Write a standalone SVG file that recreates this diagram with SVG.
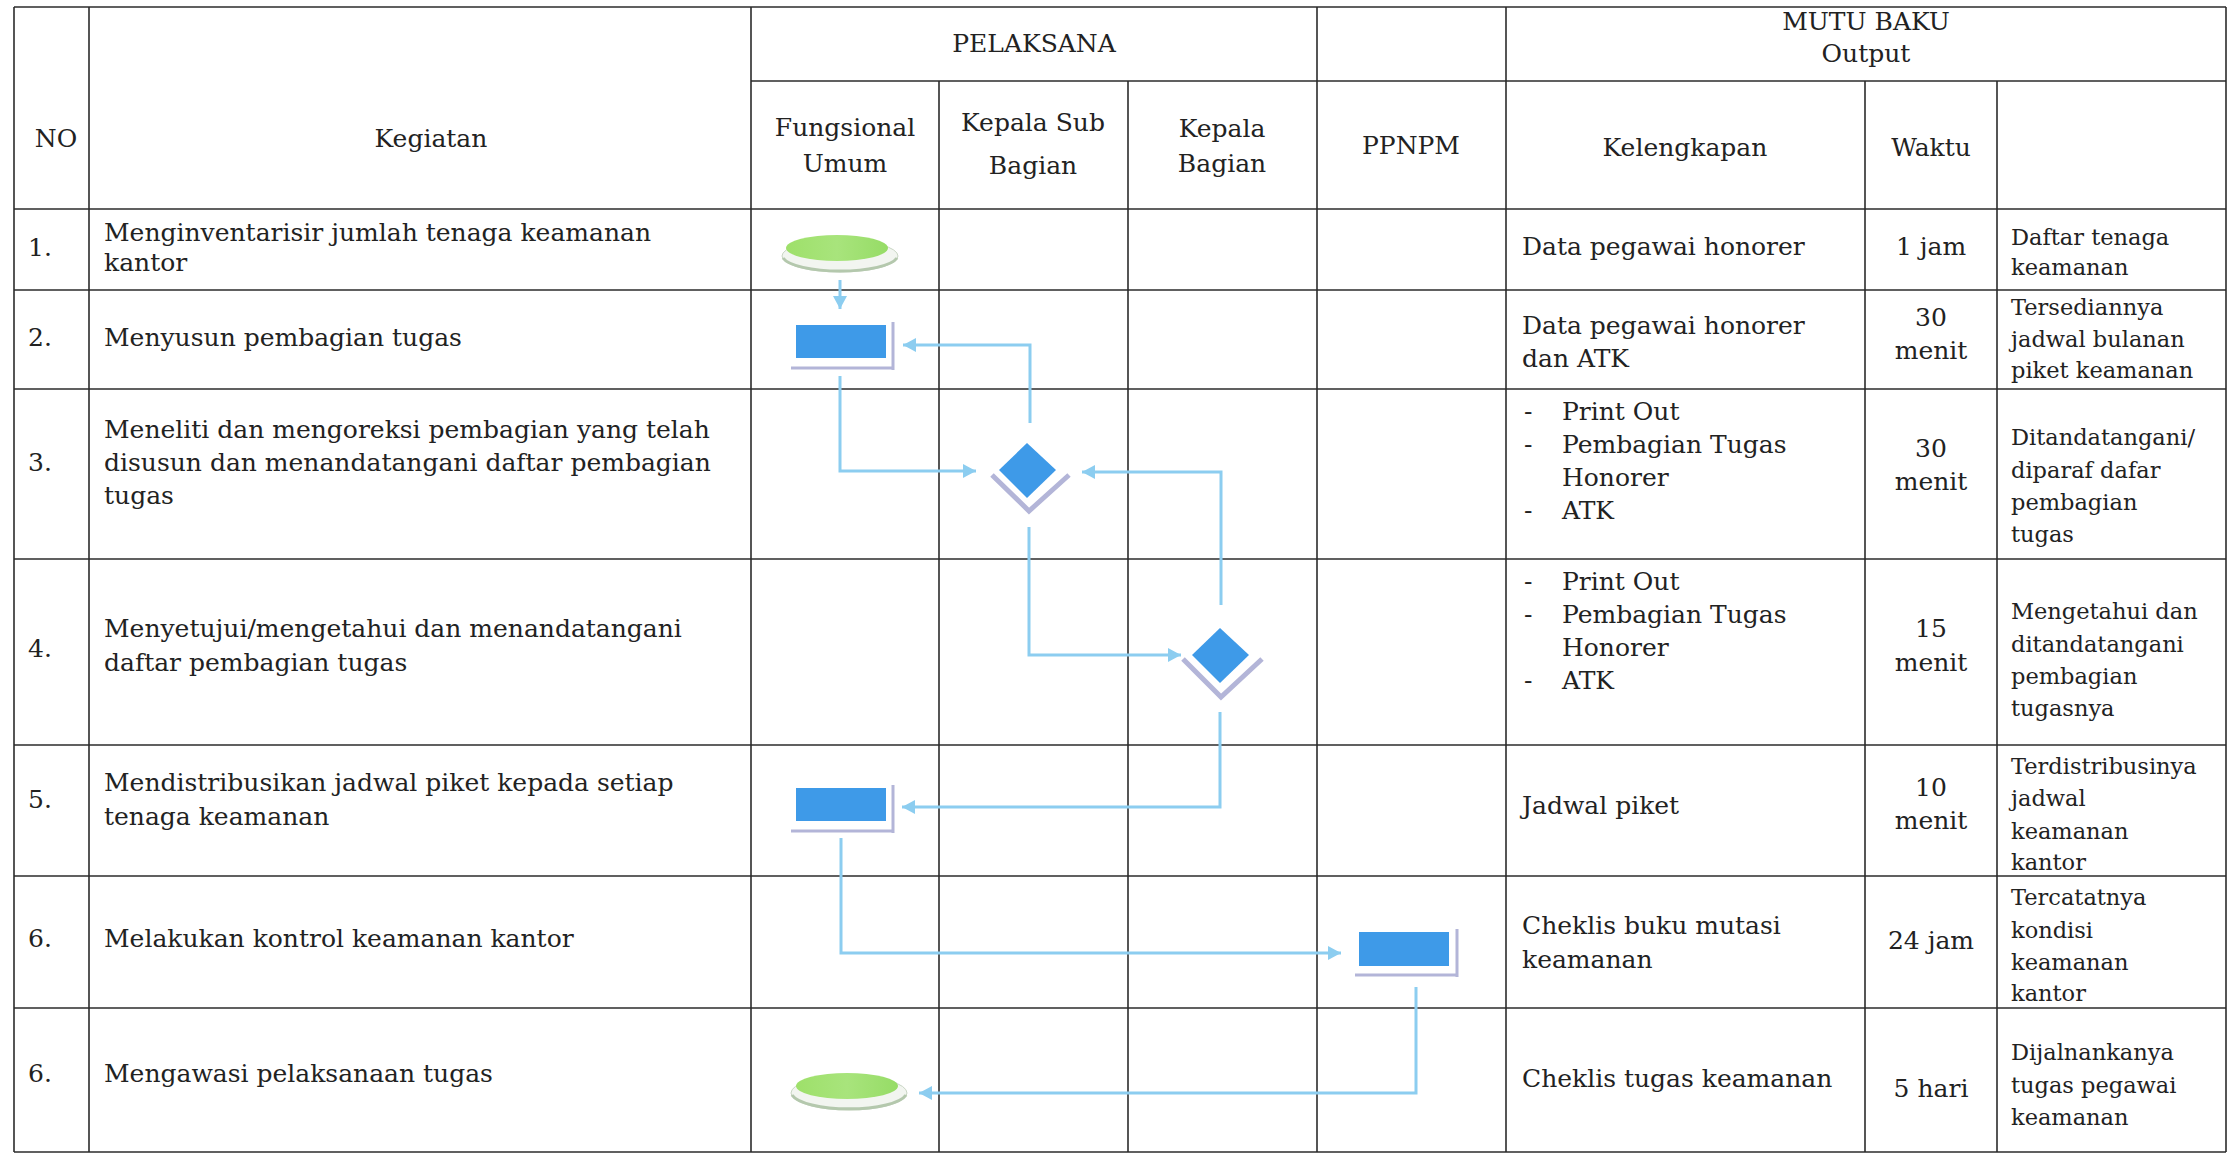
<svg xmlns="http://www.w3.org/2000/svg" width="2239" height="1156" viewBox="0 0 2239 1156">
<style>
  .grid line { stroke: #2b2b2b; stroke-width: 1.6; }
  text { font-family: "DejaVu Serif", "Liberation Serif", serif; fill: #222; }
  .h { font-size: 25px; }
  .c { text-anchor: middle; }
  .b { font-size: 25px; }
  .s { font-size: 22.5px; }
  .conn path { fill: none; stroke: #8ccdf0; stroke-width: 3; marker-end: url(#ah); }
  .blue { fill: #3e9ae8; }
  .shadow { fill: none; stroke: #b3b5d8; }
  .rim { fill: #f2f5f0; stroke: #c9d6c4; stroke-width: 1; }
  .rimedge { fill: none; stroke: #b4c8ad; stroke-width: 3; }
</style>
<defs>
  <marker id="ah" markerUnits="userSpaceOnUse" markerWidth="14" markerHeight="14" refX="13" refY="7" orient="auto">
    <path d="M0,0 L13,7 L0,14 z" fill="#8ccdf0"/>
  </marker>
  <linearGradient id="green" x1="0" y1="0" x2="1" y2="0">
    <stop offset="0" stop-color="#9ee06a"/>
    <stop offset="0.5" stop-color="#a8e47c"/>
    <stop offset="1" stop-color="#96dc66"/>
  </linearGradient>
</defs>
<rect x="0" y="0" width="2239" height="1156" fill="#ffffff"/>

<g id="table" class="grid">
  <line x1="14" y1="7" x2="2226" y2="7"/>
  <line x1="751" y1="81" x2="2226" y2="81"/>
  <line x1="14" y1="209" x2="2226" y2="209"/>
  <line x1="14" y1="290" x2="2226" y2="290"/>
  <line x1="14" y1="389" x2="2226" y2="389"/>
  <line x1="14" y1="559" x2="2226" y2="559"/>
  <line x1="14" y1="745" x2="2226" y2="745"/>
  <line x1="14" y1="876" x2="2226" y2="876"/>
  <line x1="14" y1="1008" x2="2226" y2="1008"/>
  <line x1="14" y1="1152" x2="2226" y2="1152"/>
  <line x1="14" y1="7" x2="14" y2="1152"/>
  <line x1="89" y1="7" x2="89" y2="1152"/>
  <line x1="751" y1="7" x2="751" y2="1152"/>
  <line x1="939" y1="81" x2="939" y2="1152"/>
  <line x1="1128" y1="81" x2="1128" y2="1152"/>
  <line x1="1317" y1="7" x2="1317" y2="1152"/>
  <line x1="1506" y1="7" x2="1506" y2="1152"/>
  <line x1="1865" y1="81" x2="1865" y2="1152"/>
  <line x1="1997" y1="81" x2="1997" y2="1152"/>
  <line x1="2226" y1="7" x2="2226" y2="1152"/>
</g>

<g id="header" class="h">
  <text x="56" y="147" class="c">NO</text>
  <text x="431" y="147" class="c">Kegiatan</text>
  <text x="1034" y="52" class="c">PELAKSANA</text>
  <text x="1866" y="30" class="c">MUTU BAKU</text>
  <text x="1866" y="62" class="c">Output</text>
  <text x="845" y="136" class="c">Fungsional</text>
  <text x="845" y="172" class="c">Umum</text>
  <text x="1033" y="131" class="c">Kepala Sub</text>
  <text x="1033" y="174" class="c">Bagian</text>
  <text x="1222" y="137" class="c">Kepala</text>
  <text x="1222" y="172" class="c">Bagian</text>
  <text x="1411" y="154" class="c">PPNPM</text>
  <text x="1685" y="156" class="c">Kelengkapan</text>
  <text x="1931" y="156" class="c">Waktu</text>
</g>

<g id="kegiatan" class="b">
  <text x="28" y="256">1.</text>
  <text x="104" y="241">Menginventarisir jumlah tenaga keamanan</text>
  <text x="104" y="271">kantor</text>
  <text x="28" y="346">2.</text>
  <text x="104" y="346">Menyusun pembagian tugas</text>
  <text x="28" y="471">3.</text>
  <text x="104" y="438">Meneliti dan mengoreksi pembagian yang telah</text>
  <text x="104" y="471">disusun dan menandatangani daftar pembagian</text>
  <text x="104" y="504">tugas</text>
  <text x="28" y="657">4.</text>
  <text x="104" y="637">Menyetujui/mengetahui dan menandatangani</text>
  <text x="104" y="671">daftar pembagian tugas</text>
  <text x="28" y="808">5.</text>
  <text x="104" y="791">Mendistribusikan jadwal piket kepada setiap</text>
  <text x="104" y="825">tenaga keamanan</text>
  <text x="28" y="947">6.</text>
  <text x="104" y="947">Melakukan kontrol keamanan kantor</text>
  <text x="28" y="1082">6.</text>
  <text x="104" y="1082">Mengawasi pelaksanaan tugas</text>
</g>

<g id="kelengkapan" class="b">
  <text x="1522" y="255">Data pegawai honorer</text>
  <text x="1522" y="334">Data pegawai honorer</text>
  <text x="1522" y="367">dan ATK</text>
  <text x="1524" y="420">-</text><text x="1562" y="420">Print Out</text>
  <text x="1524" y="453">-</text><text x="1562" y="453">Pembagian Tugas</text>
  <text x="1562" y="486">Honorer</text>
  <text x="1524" y="519">-</text><text x="1562" y="519">ATK</text>
  <text x="1524" y="590">-</text><text x="1562" y="590">Print Out</text>
  <text x="1524" y="623">-</text><text x="1562" y="623">Pembagian Tugas</text>
  <text x="1562" y="656">Honorer</text>
  <text x="1524" y="689">-</text><text x="1562" y="689">ATK</text>
  <text x="1522" y="814">Jadwal piket</text>
  <text x="1522" y="934">Cheklis buku mutasi</text>
  <text x="1522" y="968">keamanan</text>
  <text x="1522" y="1087">Cheklis tugas keamanan</text>
</g>

<g id="waktu" class="b">
  <text x="1931" y="255" class="c">1 jam</text>
  <text x="1931" y="326" class="c">30</text>
  <text x="1931" y="359" class="c">menit</text>
  <text x="1931" y="457" class="c">30</text>
  <text x="1931" y="490" class="c">menit</text>
  <text x="1931" y="637" class="c">15</text>
  <text x="1931" y="671" class="c">menit</text>
  <text x="1931" y="796" class="c">10</text>
  <text x="1931" y="829" class="c">menit</text>
  <text x="1931" y="949" class="c">24 jam</text>
  <text x="1931" y="1097" class="c">5 hari</text>
</g>

<g id="output" class="s">
  <text x="2011" y="245">Daftar tenaga</text>
  <text x="2011" y="275">keamanan</text>
  <text x="2011" y="315">Tersediannya</text>
  <text x="2011" y="347">jadwal bulanan</text>
  <text x="2011" y="378">piket keamanan</text>
  <text x="2011" y="445">Ditandatangani/</text>
  <text x="2011" y="478">diparaf dafar</text>
  <text x="2011" y="510">pembagian</text>
  <text x="2011" y="542">tugas</text>
  <text x="2011" y="619">Mengetahui dan</text>
  <text x="2011" y="652">ditandatangani</text>
  <text x="2011" y="684">pembagian</text>
  <text x="2011" y="716">tugasnya</text>
  <text x="2011" y="774">Terdistribusinya</text>
  <text x="2011" y="806">jadwal</text>
  <text x="2011" y="839">keamanan</text>
  <text x="2011" y="870">kantor</text>
  <text x="2011" y="905">Tercatatnya</text>
  <text x="2011" y="938">kondisi</text>
  <text x="2011" y="970">keamanan</text>
  <text x="2011" y="1001">kantor</text>
  <text x="2011" y="1060">Dijalnankanya</text>
  <text x="2011" y="1093">tugas pegawai</text>
  <text x="2011" y="1125">keamanan</text>
</g>

<g id="connectors" class="conn">
  <path d="M840,280 V309"/>
  <path d="M840,376 V471 H976"/>
  <path d="M1030,423 V345 H903"/>
  <path d="M1029,527 V655 H1181"/>
  <path d="M1221,605 V472 H1082"/>
  <path d="M1220,712 V807 H902"/>
  <path d="M841,838 V953 H1341"/>
  <path d="M1416,987 V1093 H919"/>
</g>

<g id="start">
  <ellipse cx="840" cy="256" rx="58" ry="16" class="rim"/>
  <path d="M783,258 A58,16 0 0 0 897,258" class="rimedge"/>
  <ellipse cx="837" cy="248" rx="51" ry="13" fill="url(#green)"/>
</g>

<g id="step2">
  <path d="M893,322 V370 M791,368 H894" class="shadow" stroke-width="3"/>
  <rect x="796" y="325" width="90" height="33" class="blue"/>
</g>

<g id="step3">
  <polyline points="992,475 1029,511 1069,475" class="shadow" stroke-width="5"/>
  <polygon points="1027,443 1056,470 1027,498 999,470" class="blue"/>
</g>

<g id="step4">
  <polyline points="1183,659 1221,697 1262,659" class="shadow" stroke-width="5"/>
  <polygon points="1220,628 1249,655 1220,683 1192,655" class="blue"/>
</g>

<g id="step5">
  <path d="M893,785 V833 M791,831 H894" class="shadow" stroke-width="3"/>
  <rect x="796" y="788" width="90" height="33" class="blue"/>
</g>

<g id="step6">
  <path d="M1457,929 V977 M1355,975 H1458" class="shadow" stroke-width="3"/>
  <rect x="1359" y="932" width="90" height="34" class="blue"/>
</g>

<g id="end">
  <ellipse cx="849" cy="1093" rx="58" ry="17" class="rim"/>
  <path d="M792,1095 A58,17 0 0 0 906,1095" class="rimedge"/>
  <ellipse cx="847" cy="1086" rx="51" ry="13" fill="url(#green)"/>
</g>
</svg>
